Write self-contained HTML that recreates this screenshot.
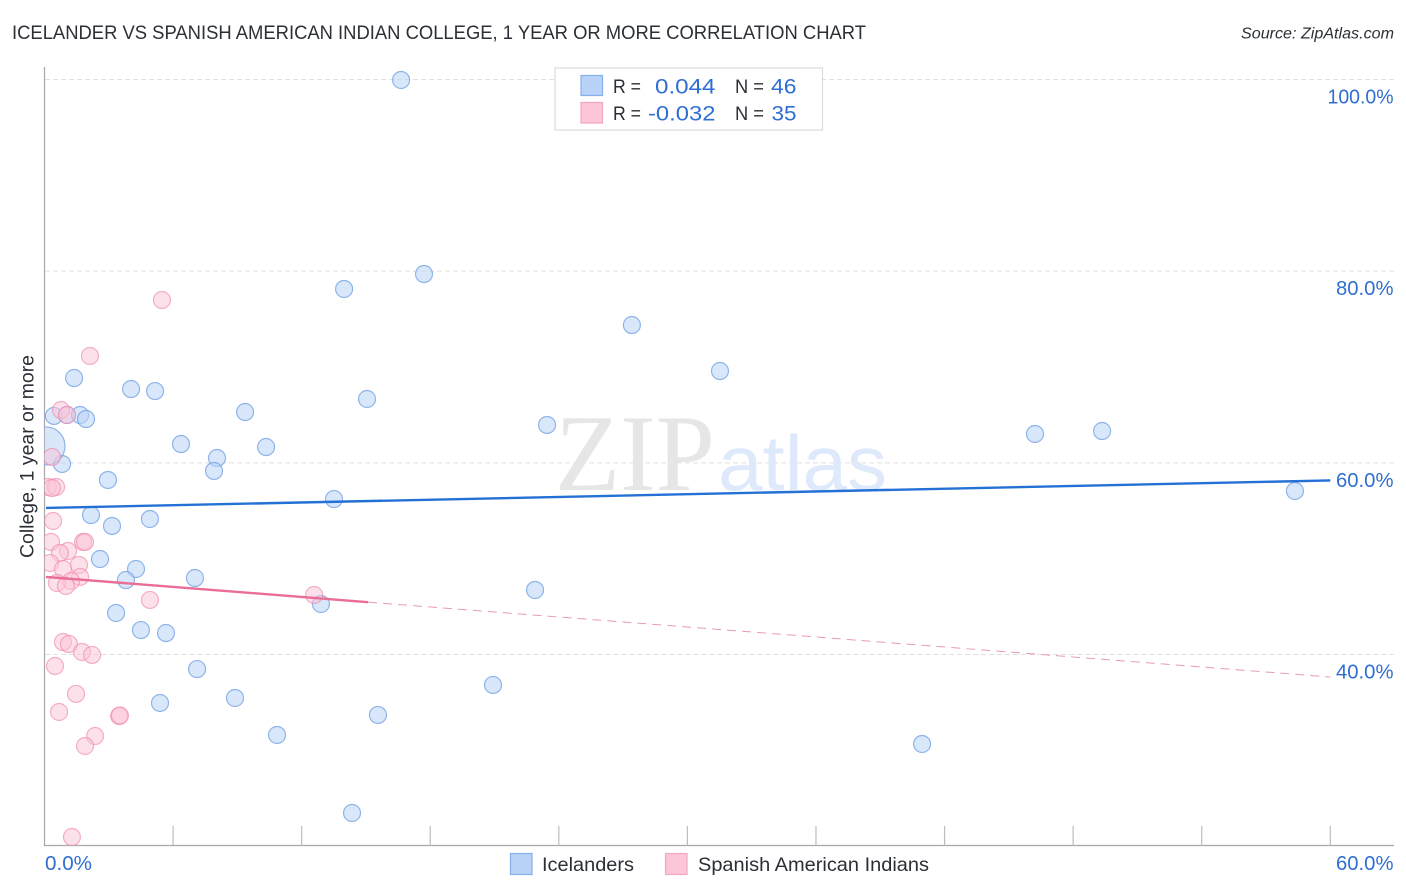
<!DOCTYPE html>
<html>
<head>
<meta charset="utf-8">
<title>Icelander vs Spanish American Indian College Correlation Chart</title>
<style>
html,body{margin:0;padding:0;background:#fff;width:1406px;height:892px;overflow:hidden}
svg{display:block}
text{font-family:"Liberation Sans",sans-serif}
</style>
</head>
<body>
<svg id="chart" xmlns="http://www.w3.org/2000/svg" width="1406" height="892" viewBox="0 0 1406 892">
  <defs>
    <clipPath id="plot-clip"><rect x="44.5" y="60" width="1350" height="785.5"/></clipPath>
  </defs>
  <text x="12" y="39" font-size="19" fill="#2b2f36" textLength="854" lengthAdjust="spacingAndGlyphs">ICELANDER VS SPANISH AMERICAN INDIAN COLLEGE, 1 YEAR OR MORE CORRELATION CHART</text>
  <text x="1241" y="38.5" font-size="15.5" font-style="italic" fill="#2b2f36" textLength="153" lengthAdjust="spacingAndGlyphs">Source: ZipAtlas.com</text>

  <g id="grid"></g>

  <g>
    <text x="555" y="490" font-size="109" fill="#e6e6e6" textLength="160" lengthAdjust="spacingAndGlyphs" style="font-family:'Liberation Serif',serif">ZIP</text>
    <text x="718" y="490" font-size="78" fill="#deeafb" textLength="169" lengthAdjust="spacingAndGlyphs">atlas</text>
  </g>

  <g id="axes"></g>
  <g id="blue-points" clip-path="url(#plot-clip)"></g>
  <g id="pink-points" clip-path="url(#plot-clip)"></g>
  <g id="trends"></g>
  <g id="labels"></g>

  <text transform="translate(33.5,558) rotate(-90)" font-size="19" fill="#2b2f36" textLength="203" lengthAdjust="spacingAndGlyphs">College, 1 year or more</text>

  <g>
    <rect x="555" y="68" width="267.5" height="62" fill="#fff" stroke="#dcdcdc" stroke-width="1.2"/>
    <rect x="581" y="75.500" width="21.500" height="20" fill="#b9d3f8" stroke="#86b0ea" stroke-width="1.2"/>
    <rect x="581" y="102.500" width="21.500" height="20.500" fill="#fcc6d8" stroke="#f3a6bf" stroke-width="1.2"/>
    <text x="613" y="93" font-size="19" fill="#2b2f36" textLength="28" lengthAdjust="spacingAndGlyphs">R =</text>
    <text x="655" y="93.500" font-size="21.500" fill="#2f6fd0" textLength="60.500" lengthAdjust="spacingAndGlyphs">0.044</text>
    <text x="735" y="93" font-size="19" fill="#2b2f36" textLength="29" lengthAdjust="spacingAndGlyphs">N =</text>
    <text x="771" y="93.500" font-size="21.500" fill="#2f6fd0" textLength="25.500" lengthAdjust="spacingAndGlyphs">46</text>
    <text x="613" y="120" font-size="19" fill="#2b2f36" textLength="28" lengthAdjust="spacingAndGlyphs">R =</text>
    <text x="648" y="120.500" font-size="21.500" fill="#2f6fd0" textLength="67.500" lengthAdjust="spacingAndGlyphs">-0.032</text>
    <text x="735" y="120" font-size="19" fill="#2b2f36" textLength="29" lengthAdjust="spacingAndGlyphs">N =</text>
    <text x="771.500" y="120.500" font-size="21.500" fill="#2f6fd0" textLength="25" lengthAdjust="spacingAndGlyphs">35</text>
  </g>

  <g>
    <rect x="510.500" y="853.500" width="21.500" height="21" fill="#b9d3f8" stroke="#86b0ea" stroke-width="1.2"/>
    <text x="542" y="871" font-size="19.500" fill="#2b2f36" textLength="92" lengthAdjust="spacingAndGlyphs">Icelanders</text>
    <rect x="665.500" y="853.500" width="21.500" height="21" fill="#fcc6d8" stroke="#f3a6bf" stroke-width="1.2"/>
    <text x="698" y="871" font-size="19.500" fill="#2b2f36" textLength="231" lengthAdjust="spacingAndGlyphs">Spanish American Indians</text>
  </g>
</svg>
<script>
const blueX = [16.64,17.71,13.98,27.41,31.52,1.38,4.04,5.16,15.05,9.36,0.44,1.05,1.66,1.94,23.45,46.22,49.35,6.37,10.34,8.05,0.82,7.91,2.96,13.51,58.35,2.17,4.92,3.15,2.59,4.27,3.80,7.02,22.89,12.90,3.34,4.50,5.67,7.12,20.93,8.89,5.39,15.56,10.85,40.95,14.35,0.07];
const blueY = [99.95,79.70,78.14,74.38,69.58,68.85,67.70,67.49,66.66,65.30,64.89,64.99,64.99,64.57,63.95,63.01,63.32,61.96,61.65,60.50,59.88,59.15,58.21,56.22,57.06,54.55,54.14,53.41,49.96,48.92,47.77,47.98,46.73,45.27,44.33,42.55,42.24,38.48,36.82,35.46,34.94,33.69,31.60,30.66,23.46,61.76];
const blueWeight = [1,1,1,1,1,1,1,1,1,1,1,1,1,1,1,1,1,1,1,1,1,1,1,1,1,1,1,1,1,1,1,1,1,1,1,1,1,1,1,1,1,1,1,1,1,5];
const pinkX = [5.48,2.12,0.77,1.05,0.35,0.16,0.54,0.35,0.40,0.30,1.80,1.89,1.10,0.72,0.26,1.61,0.86,1.66,1.24,0.58,1.00,4.92,12.58,0.86,1.14,1.75,2.22,0.49,1.47,0.68,3.48,3.52,2.36,1.89,1.28];
const pinkY = [76.99,71.15,65.51,64.99,60.61,57.48,57.48,57.37,53.93,51.74,51.74,51.74,50.80,50.59,49.55,49.34,48.92,48.09,47.67,47.46,47.15,45.69,46.21,41.30,41.09,40.26,39.95,38.80,35.88,34.00,33.58,33.63,31.49,30.45,20.95];
const yTicks = [100,80,60,40];
const yTickLabels = ["100.0%","80.0%","60.0%","40.0%"];
const xTicks = [0,6,12,18,24,30,36,42,48,54,60];
const xEndLabels = ["0.0%","60.0%"];
const blueTrendX = [0,60];
const blueTrendY = [55.29,58.16];
const pinkSolidX = [0,15.1];
const pinkSolidY = [48.09,45.46];
const pinkDashX = [15.1,60];
const pinkDashY = [45.46,37.65];

const NS = "http://www.w3.org/2000/svg";
const xScale = v => 44.5 + v * 21.43;
const yScale = v => 79.5 + (100 - v) * 9.583;
const rScale = w => 8.5 * Math.sqrt(w);

function mk(tag, attrs, parent) {
  const el = document.createElementNS(NS, tag);
  for (const k in attrs) el.setAttribute(k, attrs[k]);
  parent.appendChild(el);
  return el;
}

const grid = document.getElementById("grid");
const axes = document.getElementById("axes");
const labels = document.getElementById("labels");
const trends = document.getElementById("trends");
const bluePts = document.getElementById("blue-points");
const pinkPts = document.getElementById("pink-points");

yTicks.forEach((t, i) => {
  const line = mk("line", {x1: 45, x2: 1394, y1: yScale(t), y2: yScale(t), stroke: "#e0e0e0", "stroke-width": 1, "stroke-dasharray": "5 3"}, grid);
  
  
  const w = yTickLabels[i].length * 8.5 + 15;
  const txt = mk("text", {x: 1393.5 - w, y: yScale(t) + 24, "font-size": 20, fill: "#2f6fd0", textLength: w, lengthAdjust: "spacingAndGlyphs"}, labels);
  txt.textContent = yTickLabels[i];
  
  
});

const yAxis = mk("line", {x1: 44.5, x2: 44.5, y1: 67, y2: 846, stroke: "#a8a8a8", "stroke-width": 1.2}, axes);


const xAxis = mk("line", {x1: 44, x2: 1394, y1: 845.5, y2: 845.5, stroke: "#a8a8a8", "stroke-width": 1.2}, axes);



xTicks.forEach(t => {
  if (t === 0) return;
  const tick = mk("line", {x1: xScale(t), x2: xScale(t), y1: 826, y2: 845.5, stroke: "#bdbdbd", "stroke-width": 1.2}, axes);
  
  
});

const x0Label = mk("text", {x: 45, y: 870, "font-size": 20, fill: "#2f6fd0", textLength: 47, lengthAdjust: "spacingAndGlyphs"}, labels);
x0Label.textContent = xEndLabels[0];


const x60Label = mk("text", {x: 1336, y: 870, "font-size": 20, fill: "#2f6fd0", textLength: 57.5, lengthAdjust: "spacingAndGlyphs"}, labels);
x60Label.textContent = xEndLabels[1];



blueX.forEach((v, i) => {
  const c = mk("circle", {cx: xScale(v), cy: yScale(blueY[i]), r: rScale(blueWeight[i]), fill: "#b9d3f8", "fill-opacity": 0.55, stroke: "#6f9fe2", "stroke-opacity": 0.75, "stroke-width": 1.2}, bluePts);
  
  
});

pinkX.forEach((v, i) => {
  const c = mk("circle", {cx: xScale(v), cy: yScale(pinkY[i]), r: 8.5, fill: "#fbc3d5", "fill-opacity": 0.5, stroke: "#ee8bab", "stroke-opacity": 0.65, "stroke-width": 1.2}, pinkPts);
  
  
});

const blueTrend = mk("line", {x1: xScale(blueTrendX[0]) + 1.5, x2: xScale(blueTrendX[1]), y1: yScale(blueTrendY[0]), y2: yScale(blueTrendY[1]), stroke: "#2471d6", "stroke-width": 2.4}, trends);


const pinkSolid = mk("line", {x1: xScale(pinkSolidX[0]) + 1.5, x2: xScale(pinkSolidX[1]), y1: yScale(pinkSolidY[0]), y2: yScale(pinkSolidY[1]), stroke: "#ea6d98", "stroke-width": 2.4}, trends);


const pinkDash = mk("line", {x1: xScale(pinkDashX[0]), x2: xScale(pinkDashX[1]), y1: yScale(pinkDashY[0]), y2: yScale(pinkDashY[1]), stroke: "#e99ab5", "stroke-width": 1, "stroke-dasharray": "9 6"}, trends);


</script>
</body>
</html>
